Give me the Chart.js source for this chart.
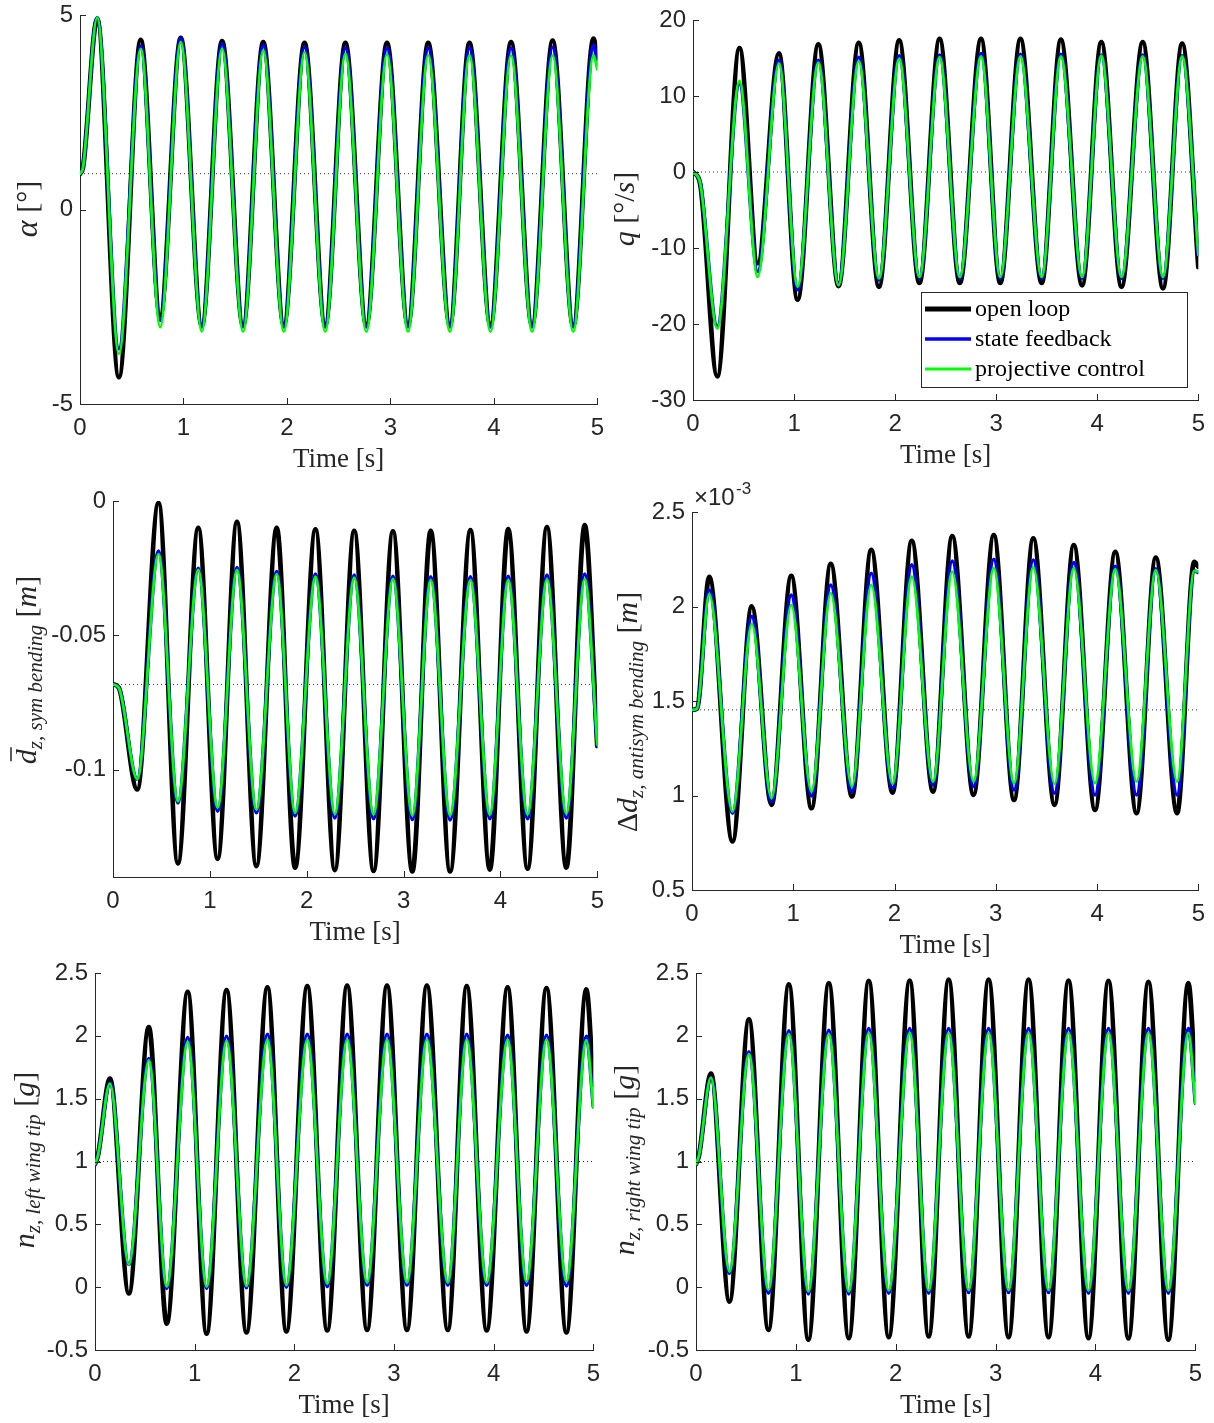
<!DOCTYPE html>
<html>
<head>
<meta charset="utf-8">
<script src="https://cdn.jsdelivr.net/npm/chart.js@4.4.1/dist/chart.umd.min.js"></script>
<style>
  html, body { margin: 0; padding: 0; background: #ffffff; }
  body { width: 1214px; height: 1423px; position: relative; overflow: hidden; }
  canvas { position: absolute; }
</style>
</head>
<body>
<script>
// ---- Series names ----
const seriesNames = ['open loop', 'state feedback', 'projective control'];
const timeTicks = [0, 1, 2, 3, 4, 5];

// ---- Angle of attack alpha [deg] (extrema of the response) ----
const alphaT     = [0, 0.03, 0.166, 0.376, 0.587, 0.775, 0.974, 1.177, 1.373, 1.576, 1.771, 1.97, 2.17, 2.37, 2.565, 2.767, 2.967, 3.17, 3.365, 3.575, 3.764, 3.967, 4.166, 4.369, 4.568, 4.767, 4.963, 5.0];
const alphaOpen  = [0.92, 1.1, 4.90, -4.31, 4.36, -2.72, 4.41, -2.98, 4.33, -2.98, 4.30, -2.96, 4.28, -2.96, 4.28, -2.96, 4.28, -2.96, 4.28, -2.96, 4.28, -2.96, 4.30, -2.97, 4.34, -2.98, 4.39, 3.90];
const alphaState = [0.92, 1.1, 4.93, -3.58, 4.20, -2.85, 4.41, -3.02, 4.26, -3.02, 4.22, -3.02, 4.17, -3.02, 4.15, -3.02, 4.15, -3.02, 4.15, -3.02, 4.15, -3.02, 4.15, -3.02, 4.17, -3.02, 4.22, 3.75];
const alphaProj  = [0.92, 1.1, 4.93, -3.71, 4.13, -3.02, 4.30, -3.13, 4.13, -3.14, 4.09, -3.14, 4.04, -3.14, 4.00, -3.14, 3.98, -3.14, 3.96, -3.14, 3.96, -3.14, 3.96, -3.14, 3.96, -3.14, 3.96, 3.60];
const alphaRef   = 0.92;
const alphaTicks = [-5, 0, 5];

// ---- Pitch rate q [deg/s] ----
const qT     = [0, 0.07, 0.24, 0.46, 0.64, 0.85, 1.035, 1.24, 1.44, 1.64, 1.84, 2.04, 2.24, 2.44, 2.64, 2.85, 3.04, 3.24, 3.45, 3.64, 3.85, 4.04, 4.24, 4.45, 4.65, 4.84, 5.0];
const qOpen  = [0, -1.5, -26.9, 16.3, -12.0, 15.6, -16.8, 16.8, -15.0, 17.0, -15.1, 17.3, -14.6, 17.5, -14.6, 17.5, -14.6, 17.5, -14.6, 17.4, -14.9, 17.1, -15.1, 17.1, -15.3, 16.9, -12.5];
const qState = [0, -1.4, -20.3, 11.6, -13.1, 14.7, -15.5, 14.7, -14.6, 15.1, -14.2, 15.3, -14.0, 15.4, -14.0, 15.6, -14.0, 15.5, -14.0, 15.5, -14.0, 15.4, -14.0, 15.4, -14.0, 15.3, -10.9];
const qProj  = [0, -1.4, -20.6, 12.0, -13.8, 14.3, -15.1, 14.4, -14.9, 14.6, -14.0, 14.9, -13.8, 15.1, -13.8, 15.2, -13.8, 15.2, -13.8, 15.2, -13.8, 15.3, -13.8, 15.2, -13.8, 15.2, -10.9];
const qRef   = 0;
const qTicks = [-30, -20, -10, 0, 10, 20];

// ---- Symmetric wing bending d_z [m] ----
const symT     = [0, 0.06, 0.25, 0.47, 0.67, 0.88, 1.08, 1.28, 1.48, 1.69, 1.88, 2.09, 2.29, 2.49, 2.69, 2.89, 3.09, 3.28, 3.48, 3.69, 3.89, 4.08, 4.28, 4.48, 4.68, 4.87, 5.0];
const symOpen  = [-0.0683, -0.0695, -0.1074, -0.0007, -0.1349, -0.0100, -0.1332, -0.0078, -0.1359, -0.0100, -0.1365, -0.0106, -0.1374, -0.0111, -0.1377, -0.0113, -0.1379, -0.0111, -0.1379, -0.0109, -0.1372, -0.0105, -0.1369, -0.0097, -0.1365, -0.0090, -0.0913];
const symState = [-0.0683, -0.0695, -0.1035, -0.0186, -0.1124, -0.0251, -0.1155, -0.0248, -0.1161, -0.0263, -0.1173, -0.0272, -0.1180, -0.0276, -0.1183, -0.0280, -0.1186, -0.0282, -0.1188, -0.0282, -0.1183, -0.0280, -0.1183, -0.0276, -0.1180, -0.0272, -0.0913];
const symProj  = [-0.0683, -0.0695, -0.1035, -0.0198, -0.1118, -0.0257, -0.1142, -0.0257, -0.1149, -0.0272, -0.1161, -0.0282, -0.1165, -0.0285, -0.1167, -0.0290, -0.1171, -0.0295, -0.1171, -0.0295, -0.1168, -0.0295, -0.1167, -0.0292, -0.1164, -0.0291, -0.0907];
const symRef   = -0.0683;
const symTicks = [-0.1, -0.05, 0];

// ---- Antisymmetric wing bending Delta d_z [1e-3 m] ----
const antiT     = [0, 0.05, 0.17, 0.40, 0.59, 0.785, 0.98, 1.18, 1.37, 1.58, 1.77, 1.98, 2.17, 2.38, 2.57, 2.78, 2.98, 3.18, 3.37, 3.58, 3.77, 3.98, 4.18, 4.39, 4.58, 4.79, 4.96, 5.0];
const antiOpen  = [1.453, 1.46, 2.157, 0.757, 2.000, 0.951, 2.162, 0.933, 2.225, 0.995, 2.300, 1.016, 2.347, 1.021, 2.372, 1.004, 2.378, 0.977, 2.360, 0.951, 2.325, 0.924, 2.289, 0.907, 2.259, 0.907, 2.236, 2.210];
const antiState = [1.453, 1.46, 2.087, 0.907, 1.947, 0.968, 2.060, 0.998, 2.114, 1.021, 2.176, 1.039, 2.220, 1.056, 2.241, 1.048, 2.250, 1.030, 2.246, 1.012, 2.232, 1.003, 2.213, 1.003, 2.200, 1.003, 2.188, 2.180];
const antiProj  = [1.453, 1.46, 2.066, 0.915, 1.908, 0.986, 2.008, 1.021, 2.070, 1.048, 2.114, 1.062, 2.158, 1.074, 2.185, 1.074, 2.203, 1.065, 2.208, 1.062, 2.203, 1.065, 2.197, 1.074, 2.192, 1.074, 2.188, 2.185];
const antiRef   = 1.453;
const antiTicks = [0.5, 1, 1.5, 2, 2.5];

// ---- Load factor at left wing tip n_z [g] ----
const leftT     = [0, 0.03, 0.15, 0.34, 0.54, 0.72, 0.93, 1.12, 1.32, 1.52, 1.73, 1.92, 2.13, 2.33, 2.53, 2.73, 2.93, 3.13, 3.33, 3.54, 3.73, 3.93, 4.14, 4.33, 4.53, 4.73, 4.93, 5.0];
const leftOpen  = [0.98, 1.05, 1.66, -0.05, 2.07, -0.29, 2.35, -0.37, 2.363, -0.36, 2.385, -0.352, 2.395, -0.344, 2.40, -0.34, 2.40, -0.34, 2.40, -0.34, 2.395, -0.344, 2.385, -0.352, 2.38, -0.36, 2.37, 1.61];
const leftState = [0.98, 1.05, 1.625, 0.18, 1.82, -0.01, 1.987, -0.01, 1.997, -0.005, 2.013, 0.0, 2.013, 0.005, 2.013, 0.015, 2.013, 0.015, 2.013, 0.015, 2.013, 0.015, 2.005, 0.015, 2.005, 0.01, 1.997, 1.435];
const leftProj  = [0.98, 1.05, 1.62, 0.18, 1.805, 0.005, 1.952, 0.005, 1.96, 0.01, 1.97, 0.018, 1.97, 0.026, 1.97, 0.037, 1.97, 0.037, 1.97, 0.037, 1.97, 0.037, 1.97, 0.045, 1.97, 0.045, 1.965, 1.435];
const leftRef   = 1.0;
const loadTicks = [-0.5, 0, 0.5, 1, 1.5, 2, 2.5];

// ---- Load factor at right wing tip n_z [g] ----
const rightT     = [0, 0.03, 0.15, 0.335, 0.53, 0.725, 0.93, 1.125, 1.33, 1.53, 1.73, 1.93, 2.14, 2.33, 2.53, 2.73, 2.93, 3.13, 3.33, 3.53, 3.73, 3.93, 4.13, 4.33, 4.53, 4.73, 4.93, 5.0];
const rightOpen  = [0.98, 1.05, 1.70, -0.114, 2.13, -0.34, 2.41, -0.418, 2.42, -0.405, 2.437, -0.397, 2.44, -0.392, 2.447, -0.392, 2.447, -0.397, 2.447, -0.397, 2.44, -0.405, 2.437, -0.408, 2.43, -0.418, 2.42, 1.647];
const rightState = [0.98, 1.05, 1.668, 0.11, 1.872, -0.048, 2.04, -0.053, 2.045, -0.053, 2.058, -0.048, 2.058, -0.048, 2.058, -0.043, 2.058, -0.043, 2.058, -0.043, 2.058, -0.048, 2.058, -0.048, 2.058, -0.048, 2.058, 1.462];
const rightProj  = [0.98, 1.05, 1.668, 0.124, 1.854, -0.021, 2.013, -0.034, 2.013, -0.034, 2.023, -0.026, 2.023, -0.026, 2.023, -0.021, 2.023, -0.021, 2.023, -0.021, 2.023, -0.026, 2.023, -0.026, 2.023, -0.026, 2.023, 1.462];
const rightRef   = 1.0;

// ---- Styling ----
const INK = '#262626';
const TICK_FONT = '"Liberation Sans", Arial, Helvetica, sans-serif';
const TICK_SIZE = 24;
const SERIF = '"Liberation Serif", "Times New Roman", "DejaVu Serif", serif';
const LINE_STYLES = [
  { color: '#000000', width: 4.8 },
  { color: '#0000ff', width: 3.6 },
  { color: '#00ff00', width: 2.8 }
];
const PADL = 110, PADR = 16, PADT = 40, PADB = 90;

// y-axis titles as runs of text (rotated)
const it = (s) => 'italic ' + s + 'px ' + SERIF;
const up = (s) => s + 'px ' + SERIF;
const MAIN = 30, SUB = 21, SUBDY = 6;

function drawRich(ctx, runs, cx, cy) {
  let total = 0;
  runs.forEach(r => { ctx.font = r.font; r.w = ctx.measureText(r.t).width; total += r.w; });
  ctx.save();
  ctx.translate(cx, cy);
  ctx.rotate(-Math.PI / 2);
  ctx.fillStyle = INK;
  ctx.textAlign = 'left';
  ctx.textBaseline = 'alphabetic';
  let x = -total / 2;
  runs.forEach(r => {
    ctx.font = r.font;
    ctx.fillText(r.t, x, r.dy || 0);
    if (r.bar) {
      ctx.strokeStyle = INK;
      ctx.lineWidth = 1.5;
      ctx.beginPath();
      ctx.moveTo(x + 3, -25);
      ctx.lineTo(x + r.w + 2, -25);
      ctx.stroke();
    }
    x += r.w;
  });
  ctx.restore();
}

function drawLegend(ctx, ox, oy) {
  const x0 = 921 - ox, y0 = 292 - oy, w = 266, h = 95;
  ctx.fillStyle = '#ffffff';
  ctx.fillRect(x0, y0, w, h);
  ctx.strokeStyle = INK;
  ctx.lineWidth = 1;
  ctx.strokeRect(x0 + 0.5, y0 + 0.5, w, h);
  const rows = [309, 339, 369];
  seriesNames.forEach((name, i) => {
    const y = rows[i] - oy;
    ctx.strokeStyle = LINE_STYLES[i].color;
    ctx.lineWidth = LINE_STYLES[i].width;
    ctx.lineCap = 'butt';
    ctx.beginPath();
    ctx.moveTo(925 - ox, y);
    ctx.lineTo(971 - ox, y);
    ctx.stroke();
    ctx.fillStyle = '#000000';
    ctx.font = '24px ' + SERIF;
    ctx.textAlign = 'left';
    ctx.textBaseline = 'alphabetic';
    ctx.fillText(name, 975 - ox, y + 7);
  });
}

function drawExponent(ctx, ox, oy) {
  ctx.fillStyle = INK;
  ctx.textAlign = 'left';
  ctx.textBaseline = 'alphabetic';
  ctx.font = '24px ' + TICK_FONT;
  ctx.fillText('\u00d710', 694 - ox, 505 - oy);
  ctx.font = '17px ' + TICK_FONT;
  ctx.fillText('-3', 736 - ox, 494 - oy);
}

function pts(t, v) { return t.map((x, i) => ({ x: x, y: v[i] })); }

function makePanel(p) {
  const { L, T, R, B } = p.box;
  const W = R - L + PADL + PADR, H = B - T + PADT + PADB;
  const ox = L - PADL, oy = T - PADT;
  const cv = document.createElement('canvas');
  cv.width = W; cv.height = H;
  cv.style.left = ox + 'px'; cv.style.top = oy + 'px';
  cv.style.width = W + 'px'; cv.style.height = H + 'px';
  document.body.appendChild(cv);

  const lines = [p.open, p.state, p.proj].map((v, i) => ({
    label: seriesNames[i],
    data: pts(p.t, v),
    borderColor: LINE_STYLES[i].color,
    borderWidth: LINE_STYLES[i].width,
    cubicInterpolationMode: 'monotone',
    pointRadius: 0,
    fill: false,
    borderJoinStyle: 'round',
    borderCapStyle: 'round',
    order: 2 - i
  }));
  const ref = {
    label: 'initial',
    data: [{ x: 0, y: p.ref }, { x: 5, y: p.ref }],
    borderColor: '#333333',
    borderWidth: 1,
    borderDash: [1, 3],
    pointRadius: 0,
    fill: false,
    order: 5
  };

  const decor = {
    id: 'decor',
    afterDraw(chart) {
      const ctx = chart.ctx, a = chart.chartArea;
      const xs = chart.scales.x, ys = chart.scales.y;
      ctx.save();
      ctx.strokeStyle = INK;
      ctx.lineWidth = 1;
      ctx.beginPath();
      xs.ticks.forEach(tk => {
        const x = Math.round(xs.getPixelForValue(tk.value)) + 0.5;
        ctx.moveTo(x, a.bottom); ctx.lineTo(x, a.bottom - 6);
      });
      ys.ticks.forEach(tk => {
        const y = Math.round(ys.getPixelForValue(tk.value)) + 0.5;
        ctx.moveTo(a.left, y); ctx.lineTo(a.left + 6, y);
      });
      ctx.stroke();
      ctx.fillStyle = INK;
      ctx.font = '27px ' + SERIF;
      ctx.textAlign = 'center';
      ctx.textBaseline = 'alphabetic';
      ctx.fillText('Time [s]', (a.left + a.right) / 2, a.bottom + 63);
      drawRich(ctx, p.ytitle, p.ytx - ox, p.yty - oy);
      if (p.extra) p.extra(ctx, ox, oy);
      ctx.restore();
    }
  };

  new Chart(cv, {
    type: 'line',
    data: { datasets: [...lines, ref] },
    options: {
      responsive: false,
      animation: false,
      devicePixelRatio: 1,
      events: [],
      layout: { padding: { left: 0, right: PADR, top: PADT, bottom: 0 } },
      plugins: { legend: { display: false }, tooltip: { enabled: false }, title: { display: false } },
      scales: {
        x: {
          type: 'linear', min: 0, max: 5,
          afterBuildTicks: s => { s.ticks = timeTicks.map(v => ({ value: v })); },
          afterFit: s => { s.height = PADB; },
          grid: { display: false, drawTicks: false },
          border: { display: true, color: INK, width: 1 },
          ticks: { autoSkip: false, maxRotation: 0, padding: 10, color: INK,
                   font: { family: TICK_FONT, size: TICK_SIZE }, callback: v => String(v) }
        },
        y: {
          type: 'linear', min: p.ymin, max: p.ymax,
          afterBuildTicks: s => { s.ticks = p.yticks.map(v => ({ value: v })); },
          afterFit: s => { s.width = PADL; },
          grid: { display: false, drawTicks: false },
          border: { display: true, color: INK, width: 1 },
          ticks: { autoSkip: false, padding: 7, color: INK,
                   font: { family: TICK_FONT, size: TICK_SIZE }, callback: v => String(v) }
        }
      }
    },
    plugins: [decor]
  });
}

makePanel({
  box: { L: 80, T: 15, R: 598, B: 404 },
  t: alphaT, open: alphaOpen, state: alphaState, proj: alphaProj, ref: alphaRef,
  ymin: -5, ymax: 5, yticks: alphaTicks,
  ytx: 37, yty: 209,
  ytitle: [{ t: '\u03b1', font: it(MAIN + 2) }, { t: ' [\u00b0]', font: up(MAIN) }]
});

makePanel({
  box: { L: 693, T: 20, R: 1199, B: 400 },
  t: qT, open: qOpen, state: qState, proj: qProj, ref: qRef,
  ymin: -30, ymax: 20, yticks: qTicks,
  ytx: 634, yty: 209,
  ytitle: [{ t: 'q', font: it(MAIN) }, { t: ' [\u00b0/', font: up(MAIN) }, { t: 's', font: it(MAIN) }, { t: ']', font: up(MAIN) }],
  extra: drawLegend
});

makePanel({
  box: { L: 113, T: 501, R: 598, B: 877 },
  t: symT, open: symOpen, state: symState, proj: symProj, ref: symRef,
  ymin: -0.14, ymax: 0, yticks: symTicks,
  ytx: 36, yty: 670,
  ytitle: [{ t: 'd', font: it(MAIN), bar: true }, { t: 'z, sym bending', font: it(SUB), dy: SUBDY },
           { t: ' [', font: up(MAIN) }, { t: 'm', font: it(MAIN) }, { t: ']', font: up(MAIN) }]
});

makePanel({
  box: { L: 692, T: 512, R: 1199, B: 890 },
  t: antiT, open: antiOpen, state: antiState, proj: antiProj, ref: antiRef,
  ymin: 0.5, ymax: 2.5, yticks: antiTicks,
  ytx: 637, yty: 712,
  ytitle: [{ t: '\u0394', font: up(MAIN) }, { t: 'd', font: it(MAIN) }, { t: 'z, antisym bending', font: it(SUB), dy: SUBDY },
           { t: ' [', font: up(MAIN) }, { t: 'm', font: it(MAIN) }, { t: ']', font: up(MAIN) }],
  extra: drawExponent
});

makePanel({
  box: { L: 95, T: 973, R: 594, B: 1350 },
  t: leftT, open: leftOpen, state: leftState, proj: leftProj, ref: leftRef,
  ymin: -0.5, ymax: 2.5, yticks: loadTicks,
  ytx: 34, yty: 1160,
  ytitle: [{ t: 'n', font: it(MAIN) }, { t: 'z, left wing tip', font: it(SUB), dy: SUBDY },
           { t: ' [', font: up(MAIN) }, { t: 'g', font: it(MAIN) }, { t: ']', font: up(MAIN) }]
});

makePanel({
  box: { L: 696, T: 973, R: 1196, B: 1350 },
  t: rightT, open: rightOpen, state: rightState, proj: rightProj, ref: rightRef,
  ymin: -0.5, ymax: 2.5, yticks: loadTicks,
  ytx: 634, yty: 1160,
  ytitle: [{ t: 'n', font: it(MAIN) }, { t: 'z, right wing tip', font: it(SUB), dy: SUBDY },
           { t: ' [', font: up(MAIN) }, { t: 'g', font: it(MAIN) }, { t: ']', font: up(MAIN) }]
});
</script>
</body>
</html>
